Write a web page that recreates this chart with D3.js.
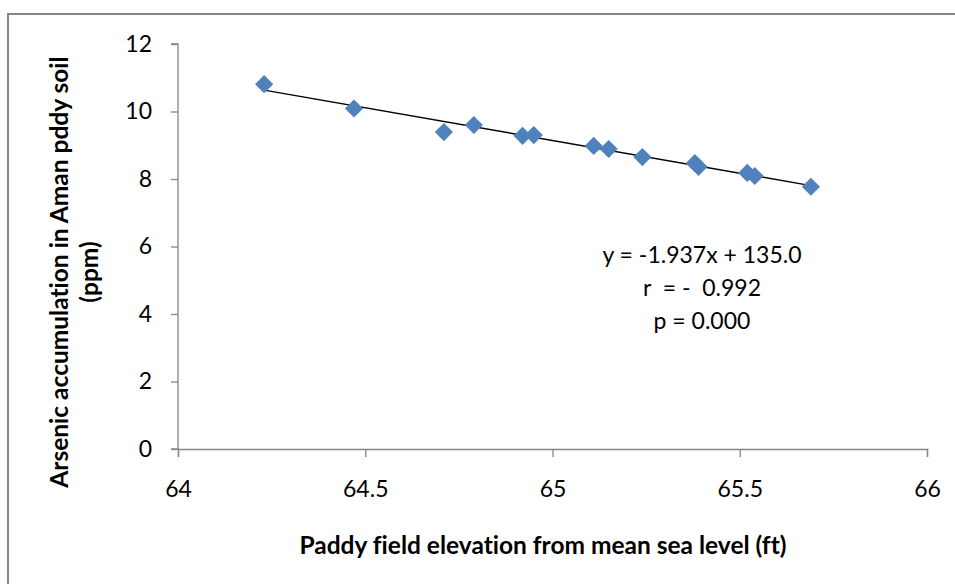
<!DOCTYPE html>
<html>
<head>
<meta charset="utf-8">
<script src="https://cdn.jsdelivr.net/npm/d3@7/dist/d3.min.js"></script>
<style>
  html, body { margin: 0; padding: 0; background: #fff; }
  svg { display: block; }
  text { font-family: Lato, "Open Sans", sans-serif; font-variant-ligatures: none; font-feature-settings: "liga" 0; }
</style>
</head>
<body>
<svg id="chart" width="955" height="584"></svg>
<script>
// ---- data ----
const elevation = [64.23, 64.47, 64.71, 64.79, 64.92, 64.95, 65.11, 65.15, 65.24, 65.38, 65.39, 65.52, 65.54, 65.69];
const arsenic   = [10.81, 10.09, 9.39, 9.60, 9.28, 9.30, 8.98, 8.89, 8.65, 8.47, 8.36, 8.18, 8.09, 7.77];
const xTicks = [64, 64.5, 65, 65.5, 66];
const yTicks = [0, 2, 4, 6, 8, 10, 12];
const annotation = ["y = -1.937x + 135.0", "r  = -  0.992", "p = 0.000"];
const xTitle = "Paddy field elevation from mean sea level (ft)";
const yTitle = ["Arsenic accumulation in Aman pddy soil", "(ppm)"];

const svg = d3.select("#chart");
const W = 955, H = 584;
const m = {left: 178, top: 44, right: 28, bottom: 135};
const x = d3.scaleLinear().domain([64, 66]).range([m.left, W - m.right]);
const y = d3.scaleLinear().domain([0, 12]).range([H - m.bottom, m.top]);

// outer chart border
svg.append("rect").attr("x", 8).attr("y", 14).attr("width", 960).attr("height", 600)
  .attr("fill", "#fff").attr("stroke", "#868686").attr("stroke-width", 2);

const axisColor = "#868686";
// y axis
const gy = svg.append("g").attr("transform", `translate(${m.left},0)`)
  .call(d3.axisLeft(y).tickValues(yTicks).tickSize(7).tickPadding(19).tickFormat(d3.format("d")));
// x axis
const gx = svg.append("g").attr("transform", `translate(0,${y(0)})`)
  .call(d3.axisBottom(x).tickValues(xTicks).tickSize(8).tickPadding(24).tickFormat(d => String(d)));
[gx, gy].forEach(g => {
  g.select(".domain").attr("stroke", axisColor).attr("stroke-width", 1.3);
  g.selectAll(".tick line").attr("stroke", axisColor).attr("stroke-width", 1.3);
  g.selectAll(".tick text").attr("fill", "#000").style("font-size", "23px").style("font-family", "Lato, sans-serif");
});
gy.select(".domain").attr("d", `M-7,${y(12)}H0V${y(0)}H-7`);

// trendline (least squares from data)
const mx = d3.mean(elevation), my = d3.mean(arsenic);
const sxy = d3.sum(elevation, (v, i) => (v - mx) * (arsenic[i] - my));
const sxx = d3.sum(elevation, v => (v - mx) * (v - mx));
const slope = sxy / sxx, intercept = my - slope * mx;
const xmin = d3.min(elevation), xmax = d3.max(elevation);
svg.append("line")
  .attr("x1", x(xmin)).attr("y1", y(intercept + slope * xmin))
  .attr("x2", x(xmax)).attr("y2", y(intercept + slope * xmax))
  .attr("stroke", "#000").attr("stroke-width", 1.4);

// markers (diamonds)
const diamond = d3.symbol().type(d3.symbolSquare).size(165);
svg.append("g").selectAll("path").data(elevation).join("path")
  .attr("d", diamond)
  .attr("transform", (d, i) => `translate(${x(d)},${y(arsenic[i])}) rotate(45)`)
  .attr("fill", "#4F81BD");

// annotation
annotation.forEach((t, i) => {
  svg.append("text").attr("x", 702).attr("y", 263 + i * 33)
    .attr("text-anchor", "middle").attr("fill", "#000")
    .style("font-size", "23px").style("white-space", "pre")
    .attr("xml:space", "preserve").text(t);
});

// axis titles
svg.append("text").attr("x", 543).attr("y", 554).attr("text-anchor", "middle")
  .style("font-size", "24.5px").style("font-weight", "bold").attr("fill", "#000").text(xTitle);
yTitle.forEach((t, i) => {
  svg.append("text")
    .attr("transform", `translate(${68 + i * 30},272) rotate(-90)`)
    .attr("text-anchor", "middle")
    .style("font-size", "24.5px").style("font-weight", "bold").attr("fill", "#000").text(t);
});
</script>
</body>
</html>
